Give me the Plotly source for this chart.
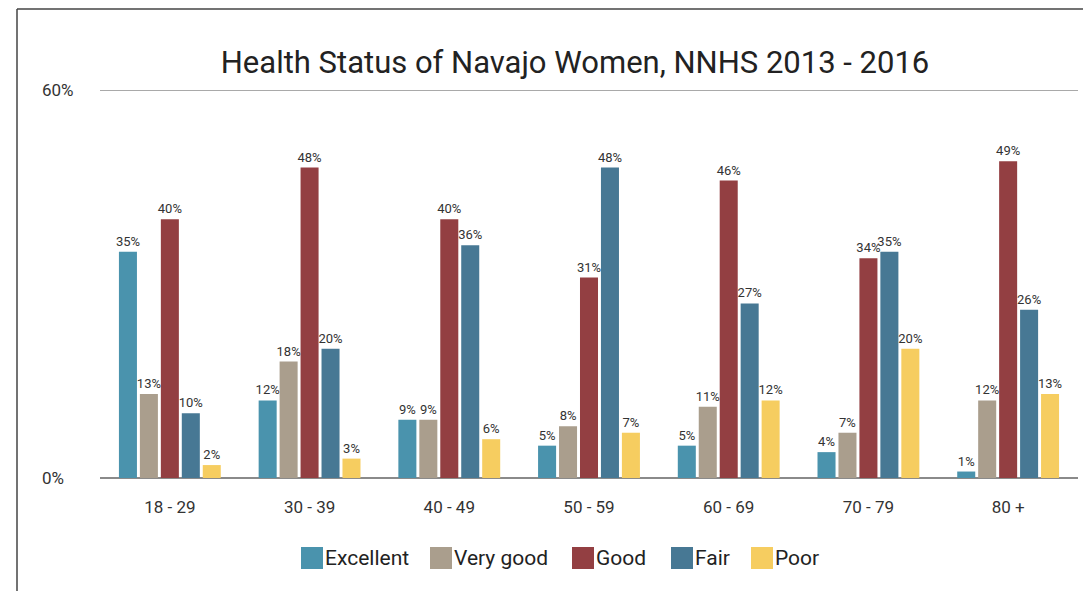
import plotly.graph_objects as go

categories = ["18 - 29", "30 - 39", "40 - 49", "50 - 59", "60 - 69", "70 - 79", "80 +"]
series_names = ["Excellent", "Very good", "Good", "Fair", "Poor"]
excellent = [35, 12, 9, 5, 5, 4, 1]
very_good = [13, 18, 9, 8, 11, 7, 12]
good = [40, 48, 40, 31, 46, 34, 49]
fair = [10, 20, 36, 48, 27, 35, 26]
poor = [2, 3, 6, 7, 12, 20, 13]
series_values = [excellent, very_good, good, fair, poor]
colors = ["#4A93AD", "#AA9E8D", "#933F42", "#477894", "#F6CD60"]
y_ticks = [0, 60]
y_tick_labels = ["0%", "60%"]
title_text = "Health Status of Navajo Women, NNHS 2013 - 2016"

FONT = "Roboto, sans-serif"
OFF = 8  # page body margin
W, H = 1091 - OFF, 591 - OFF
# plot area in window pixels: x 100..1078, y 90..478
ML, MR, MT, MB = 100 - OFF, 1091 - 1078, 90 - OFF, 591 - 478
PW, PH = W - ML - MR, H - MT - MB

def px_x(p):
    return (p - OFF - ML) / PW

def px_y(p):
    return (H - MB - (p - OFF)) / PH

fig = go.Figure()
for name, vals, col in zip(series_names, series_values, colors):
    fig.add_trace(go.Bar(
        x=categories, y=vals, name=name, marker=dict(color=col, line=dict(width=0)),
        text=[f"{v}%" for v in vals], textposition="outside", constraintext="none",
        textfont=dict(family=FONT, size=13, color="#333333"),
        cliponaxis=False, showlegend=False,
    ))

annotations = []
for v, lab in zip(y_ticks, y_tick_labels):
    annotations.append(dict(x=px_x(40), y=v, xref="paper", yref="y", text=lab,
                            showarrow=False, xanchor="left", yanchor="middle",
                            font=dict(family=FONT, size=17, color="#333333")))

# custom legend
leg_sq_x = [301, 430, 572, 671, 751]
shapes = []
for name, col, sx in zip(series_names, colors, leg_sq_x):
    shapes.append(dict(type="rect", xref="paper", yref="paper",
                       x0=px_x(sx), x1=px_x(sx + 22), y0=px_y(547), y1=px_y(569),
                       fillcolor=col, line=dict(width=0)))
    annotations.append(dict(x=px_x(sx + 22), y=px_y(558), xref="paper", yref="paper",
                            text=name, showarrow=False, xanchor="left", yanchor="middle",
                            font=dict(family=FONT, size=21, color="#222222")))

# 60% gridline
shapes.append(dict(type="line", xref="paper", yref="y", x0=0, x1=1,
                   y0=y_ticks[-1], y1=y_ticks[-1], line=dict(color="#555555", width=1)))
# frame
shapes.append(dict(type="line", xref="paper", yref="paper", x0=px_x(17), x1=px_x(1100),
                   y0=px_y(9), y1=px_y(9), line=dict(color="#444444", width=1.5)))
shapes.append(dict(type="line", xref="paper", yref="paper", x0=px_x(17), x1=px_x(17),
                   y0=px_y(9), y1=px_y(600), line=dict(color="#444444", width=1.5)))

fig.update_layout(
    width=W, height=H,
    margin=dict(l=ML, r=MR, t=MT, b=MB),
    paper_bgcolor="white", plot_bgcolor="white",
    barmode="group", bargap=0.25, bargroupgap=0.14,
    title=dict(text=title_text, x=(575 - OFF) / W, xref="container", xanchor="center",
               y=1 - (62 - OFF) / H, yref="container", yanchor="middle",
               font=dict(family=FONT, size=31, color="#222222")),
    font=dict(family=FONT, color="#333333"),
    xaxis=dict(showgrid=False, showline=False, ticks="", ticklabelstandoff=17,
               tickfont=dict(family=FONT, size=17, color="#333333")),
    yaxis=dict(range=[0, 60], tickvals=y_ticks, showticklabels=False,
               showgrid=False,
               zeroline=True, zerolinecolor="#8a8a8a", zerolinewidth=2,
               showline=False, ticks=""),
    annotations=annotations, shapes=shapes,
)

fig.write_html("out.html")
